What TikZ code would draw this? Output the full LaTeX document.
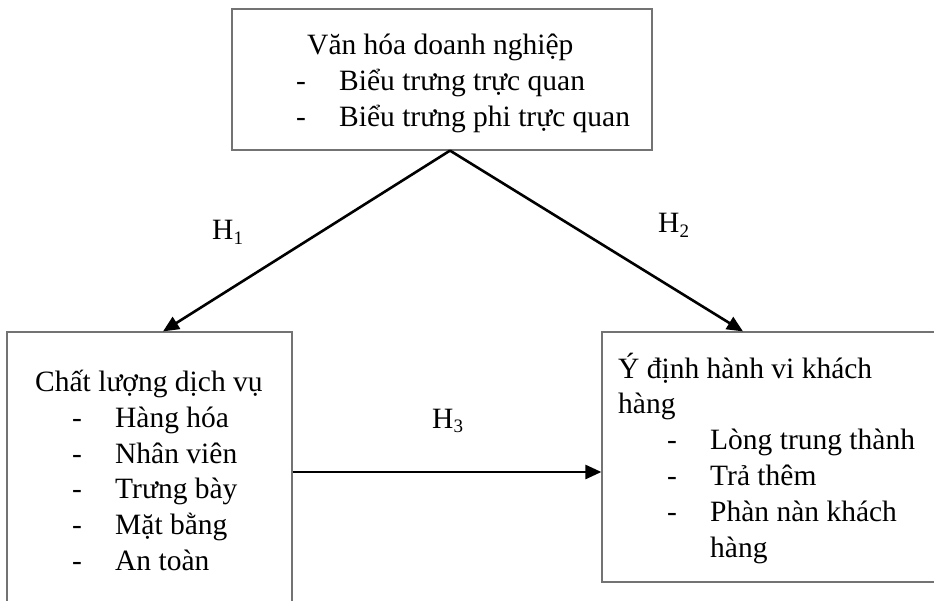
\documentclass[tikz,border=0pt]{standalone}
\usepackage{fontspec}
\setmainfont{Liberation Serif}
\usetikzlibrary{arrows.meta}
\newcommand{\subdig}[1]{\raisebox{-5pt}{\fontsize{19}{19}\selectfont #1}}
\newcommand{\dashitem}[2]{\hspace*{#1}\makebox[43pt][l]{-}#2}
\begin{document}
\begin{tikzpicture}[x=1pt,y=-1pt,
  boxstyle/.style={draw=black!55, line width=1.2pt, rectangle, inner sep=0pt},
  txt/.style={inner sep=0pt, anchor=base west, align=left, font=\fontsize{29.5}{35.8}\selectfont},
  hlabel/.style={inner sep=0pt, anchor=base west, font=\fontsize{29.5}{35.8}\selectfont},
  arr/.style={line width=2.6pt, -{Triangle[length=16pt,width=14pt]}}]
\useasboundingbox (0,0) rectangle (934,601);
\clip (0,0) rectangle (934,601);
% boxes
\node[boxstyle, minimum width=420pt, minimum height=141pt] (vh) at (442,79.5) {};
\node[boxstyle, minimum width=285pt, minimum height=308pt] (cl) at (149.5,486) {};
\node[boxstyle, minimum width=358pt, minimum height=250pt] (yd) at (781,457) {};
% texts (anchored at the baseline of their last line)
\node[txt] (vhtext) at (296,126.6) {\hspace*{11pt}Văn hóa doanh nghiệp\\
  \dashitem{0pt}{Biểu trưng trực quan}\\
  \dashitem{0pt}{Biểu trưng phi trực quan}};
\node[txt] (cltext) at (35,570.5) {Chất lượng dịch vụ\\
  \dashitem{37pt}{Hàng hóa}\\
  \dashitem{37pt}{Nhân viên}\\
  \dashitem{37pt}{Trưng bày}\\
  \dashitem{37pt}{Mặt bằng}\\
  \dashitem{37pt}{An toàn}};
\node[txt] (ydtext) at (618,557) {Ý định hành vi khách\\
  hàng\\
  \dashitem{49pt}{Lòng trung thành}\\
  \dashitem{49pt}{Trả thêm}\\
  \dashitem{49pt}{Phàn nàn khách}\\
  \hspace*{92pt}hàng};
% connectors
\coordinate (apex) at (vh.south -| 450,0);
\coordinate (clin) at (cl.north -| 163,0);
\coordinate (ydin) at (yd.north -| 743,0);
\coordinate (clout) at (cl.east |- 0,472);
\coordinate (ydin3) at (yd.west |- 0,472);
\draw[arr] (apex) -- (clin);
\draw[arr] (apex) -- (ydin);
\draw[arr] (clout) -- (ydin3);
% labels
\node[hlabel] (h1) at (212,240) {H\subdig{1}};
\node[hlabel] (h2) at (658,233) {H\subdig{2}};
\node[hlabel] (h3) at (432,428) {H\subdig{3}};
\end{tikzpicture}
\end{document}
